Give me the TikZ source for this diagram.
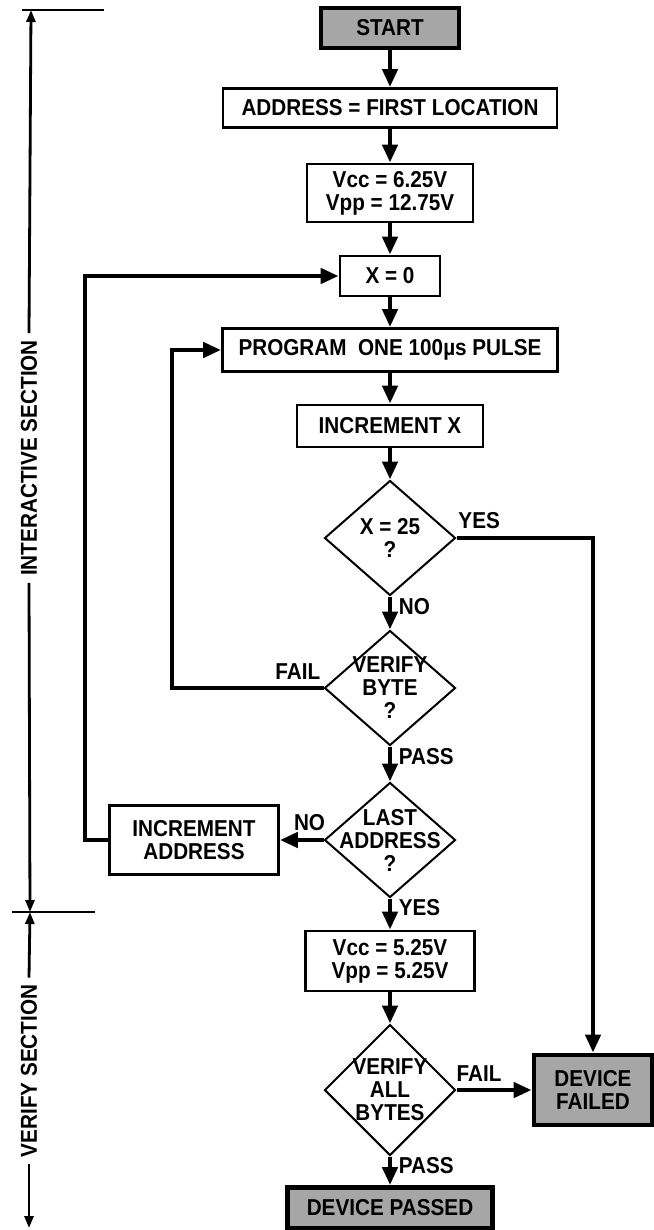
\documentclass[tikz,border=0pt]{standalone}
\usepackage{fontspec}
\setmainfont{Liberation Sans}[FakeStretch=0.9]
\usetikzlibrary{shapes.geometric,arrows.meta,positioning}
\tikzstyle{arrow} = [line width=2.2pt,-{Triangle[width=7.5pt,length=9pt]}]
\tikzstyle{barrow} = [line width=1.4pt,-{Triangle[width=4.5pt,length=6pt]}]
\tikzstyle{tick} = [line width=1.4pt]
\tikzstyle{procbox} = [draw, line width=1.4pt, inner sep=2pt, align=center]
\tikzstyle{termbox} = [draw, line width=2.4pt, fill=black!35, inner sep=2pt, align=center]
\tikzstyle{decision} = [draw, diamond, line width=1pt, inner sep=0pt, minimum width=65.5pt, minimum height=57.5pt]
\tikzstyle{dtext} = [align=center]

\begin{document}
\begin{tikzpicture}[x=0.5pt,y=-0.5pt,font=\fontsize{11.5}{11.5}\selectfont\bfseries]
        % Bounding box
        \useasboundingbox (0,0) rectangle (653,1230);

        % Nodes
        \node[termbox, minimum width=69pt, minimum height=20pt] (start) at (390,28) {START};
        \node[procbox, minimum width=167pt, minimum height=19.5pt] (addr) at (390,108) {ADDRESS = FIRST LOCATION};
        \node[procbox, minimum width=83pt, minimum height=29pt] (vccprog) at (390,193) {Vcc = 6.25V\\Vpp = 12.75V};
        \node[procbox, minimum width=50pt, minimum height=20pt] (xzero) at (390,276) {X = 0};
        \node[procbox, minimum width=167.5pt, minimum height=21.5pt] (pulse) at (390,350) {PROGRAM\ \ ONE 100µs PULSE};
        \node[procbox, minimum width=93pt, minimum height=21pt] (incx) at (390,426) {INCREMENT X};
        \node[decision, label={[dtext]center:X = 25\\?}] (xmax) at (390,538) {};
        \node[decision, label={[dtext]center:VERIFY\\BYTE\\?}] (vbyte) at (390,688) {};
        \node[decision, label={[dtext]center:LAST\\ADDRESS\\?}] (lastaddr) at (390,840) {};
        \node[procbox, minimum width=84.5pt, minimum height=34.5pt] (incaddr) at (194,840) {INCREMENT\\ADDRESS};
        \node[procbox, minimum width=84.5pt, minimum height=30pt] (vccver) at (390,961) {Vcc = 5.25V\\Vpp = 5.25V};
        \node[decision, minimum height=65.5pt, label={[dtext]center:VERIFY\\ALL\\BYTES}] (vall) at (390,1090) {};
        \node[termbox, minimum width=59pt, minimum height=35pt] (failed) at (593,1090) {DEVICE\\FAILED};
        \node[termbox, minimum width=102.5pt, minimum height=20.5pt] (passed) at (390,1208) {DEVICE PASSED};

        % Section bracket
        \node[rotate=90] (intlabel) at (29,458) {INTERACTIVE SECTION};
        \node[rotate=90] (verlabel) at (29,1071) {VERIFY SECTION};
        \coordinate (itop) at (31,10);
        \coordinate (imid) at (30,912);
        \coordinate (vbottom) at (29,1228);
        \draw[tick] (22,10) -- (104,10);
        \draw[tick] (12,912) -- (95,912);
        \draw[barrow] (intlabel.east) -- (itop);
        \draw[barrow] (intlabel.west) -- (imid);
        \draw[barrow] (verlabel.east) -- (imid);
        \draw[barrow] (verlabel.west) -- (vbottom);

        % Edges
        \draw[arrow] (start) -- (addr);
        \draw[arrow] (addr) -- (vccprog);
        \draw[arrow] (vccprog) -- (xzero);
        \draw[arrow] (xzero) -- (pulse);
        \draw[arrow] (pulse) -- (incx);
        \draw[arrow] (incx) -- (xmax.north);
        \draw[arrow] (xmax.south) -- node[right, pos=0.3] {NO} (vbyte.north);
        \draw[arrow] (vbyte.south) -- node[right, pos=0.3] {PASS} (lastaddr.north);
        \draw[arrow] (lastaddr.south) -- node[right, pos=0.3] {YES} (vccver);
        \draw[arrow] (vccver) -- (vall.north);
        \draw[arrow] (vall.south) -- node[right, pos=0.3] {PASS} (passed);
        \draw[arrow] (vall.east) -- node[above, pos=0.3] {FAIL} (failed.west);
        \draw[arrow] (lastaddr.west) -- node[above, pos=0.32] {NO} (incaddr.east);

        % Loops back
        \coordinate (failturn) at (172,688);
        \coordinate (addrturn) at (85,840);
        \draw[arrow] (vbyte.west) -- node[above, pos=0.17] {FAIL} (failturn) |- (pulse.west);
        \draw[arrow] (incaddr.west) -- (addrturn) |- (xzero.west);
        \draw[arrow] (xmax.east) -| node[above, pos=0.083] {YES} (failed.north);

    \end{tikzpicture}
\end{document}
